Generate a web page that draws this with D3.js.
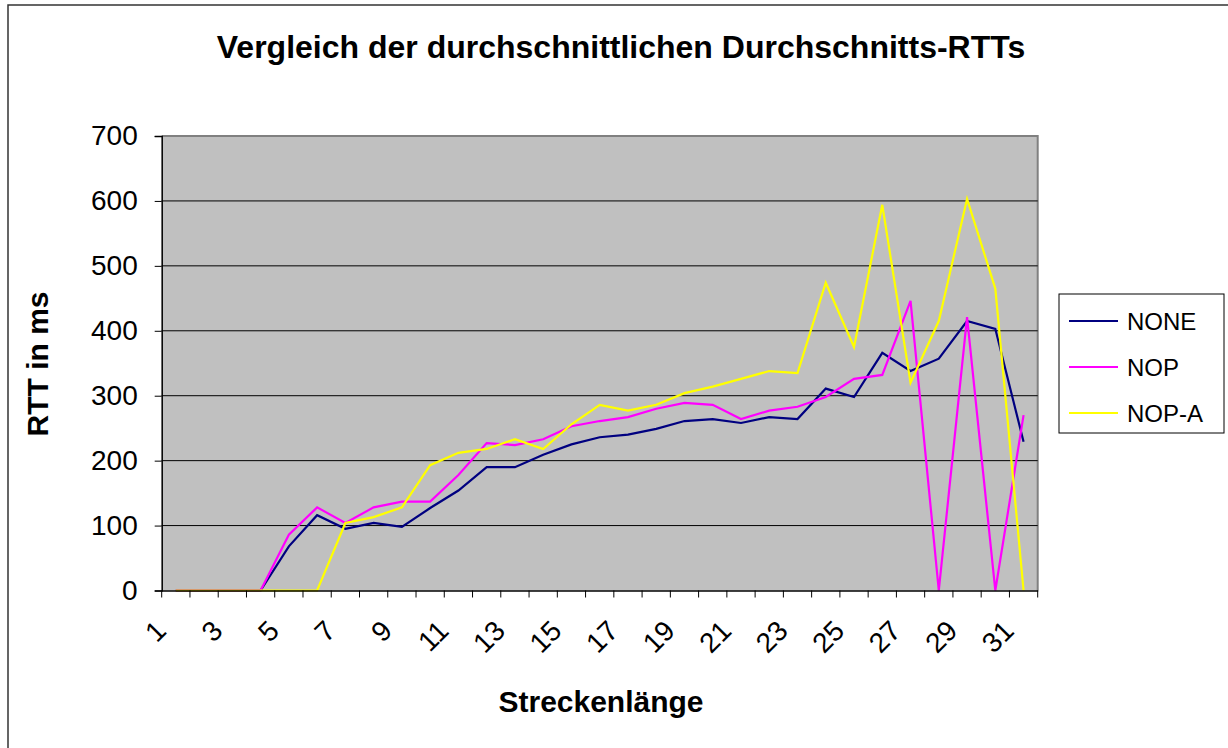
<!DOCTYPE html>
<html><head><meta charset="utf-8">
<script src="https://cdn.jsdelivr.net/npm/d3@7"></script>
<style>body{margin:0;background:#fff}svg{display:block}text{font-family:"Liberation Sans",Arial,sans-serif}</style>
</head><body>
<svg id="c" width="1228" height="748"></svg>
<script>
const categories = d3.range(1, 32).map(String);
const seriesNames = ["NONE", "NOP", "NOP-A"];
const seriesColors = ["#000080", "#FF00FF", "#FFFF00"];
const noneValues = [0,0,0,0,68,116,95,104,98,127,154,190,190,209,225,236,240,249,261,264,258,267,264,311,298,366,338,357,415,403,229];
const nopValues  = [0,0,0,0,86,128,104,128,137,137,178,227,224,233,253,261,267,280,289,286,264,277,283,298,326,332,446,0,421,0,270];
const nopaValues = [0,0,0,0,0,0,104,113,128,193,212,218,233,218,256,286,277,286,304,314,326,338,335,474,375,594,320,415,603,465,0];
const yTicks = [0,100,200,300,400,500,600,700];
const xTickLabels = categories.filter((d,i) => i % 2 === 0);

const svg = d3.select("#c");
const L = 161.7, R = 1037.7, T = 136, B = 590.5;

// outer border
svg.append("rect").attr("x",8).attr("y",5).attr("width",1240).attr("height",760)
  .attr("fill","none").attr("stroke","#333").attr("stroke-width",1.5);

const x = d3.scaleBand().domain(categories).range([L, R]);
const y = d3.scaleLinear().domain([0,700]).range([B, T]);

// plot background
svg.append("rect").attr("x",L).attr("y",T).attr("width",R-L).attr("height",B-T).attr("fill","#C0C0C0");
// plot frame (gray top/right)
svg.append("path").attr("d",`M${L},${T}H${R}V${B}`).attr("fill","none").attr("stroke","#808080").attr("stroke-width",2);

// gridlines
svg.append("g").selectAll("line").data(yTicks.filter(d=>d>0 && d<700)).join("line")
  .attr("x1",L).attr("x2",R).attr("y1",d=>y(d)).attr("y2",d=>y(d))
  .attr("stroke","#000").attr("stroke-width",1);

// lines
const all = [noneValues, nopValues, nopaValues];
const line = d3.line().x((d,i)=>x(categories[i]) + x.bandwidth()/2).y(d=>y(d));
all.forEach((vals, k) => {
  svg.append("path").datum(vals).attr("d", line).attr("fill","none")
    .attr("stroke", seriesColors[k]).attr("stroke-width",2.2).attr("stroke-linejoin","miter");
});

// y axis
const yAxis = svg.append("g").attr("transform",`translate(${L},0)`)
  .call(d3.axisLeft(y).tickValues(yTicks).tickSize(7).tickPadding(17));
yAxis.select(".domain").attr("stroke","#000").attr("stroke-width",1.5);
yAxis.selectAll(".tick line").attr("stroke","#000");
yAxis.selectAll("text").attr("font-size",28).attr("fill","#000").attr("font-family","Liberation Sans, Arial, sans-serif");

// x axis
const xAxis = svg.append("g").attr("transform",`translate(0,${B})`)
  .call(d3.axisBottom(x).tickSize(0).tickFormat(""));
xAxis.select(".domain").attr("stroke","#000").attr("stroke-width",1.5);
// tick marks at band boundaries
const bounds = categories.map(c => x(c)).concat([R]);
svg.append("g").selectAll("line").data(bounds).join("line")
  .attr("x1",d=>d).attr("x2",d=>d).attr("y1",B).attr("y2",B+7).attr("stroke","#000");
// rotated labels
svg.append("g").selectAll("text").data(xTickLabels).join("text")
  .attr("transform", d => `translate(${x(d)+x.bandwidth()/2-15},${B+35}) rotate(-45)`)
  .attr("text-anchor","end").attr("dy","0.35em")
  .attr("font-size",28).attr("fill","#000").text(d=>d);

// titles
svg.append("text").attr("x",621).attr("y",58).attr("text-anchor","middle")
  .attr("font-size",32).attr("font-weight","bold").text("Vergleich der durchschnittlichen Durchschnitts-RTTs");
svg.append("text").attr("x",601).attr("y",712).attr("text-anchor","middle")
  .attr("font-size",30).attr("font-weight","bold").text("Streckenlänge");
svg.append("text").attr("transform","translate(48,364) rotate(-90)").attr("text-anchor","middle")
  .attr("font-size",30).attr("font-weight","bold").text("RTT in ms");

// legend
const lg = svg.append("g");
lg.append("rect").attr("x",1059).attr("y",294).attr("width",165).attr("height",139)
  .attr("fill","#fff").attr("stroke","#000").attr("stroke-width",1);
seriesNames.forEach((n,k) => {
  const yy = 321 + k*46;
  lg.append("line").attr("x1",1069).attr("x2",1118).attr("y1",yy).attr("y2",yy)
    .attr("stroke",seriesColors[k]).attr("stroke-width",2);
  lg.append("text").attr("x",1127).attr("y",yy).attr("dy","0.36em")
    .attr("font-size",24).attr("fill","#000").text(n);
});
</script>
</body></html>
